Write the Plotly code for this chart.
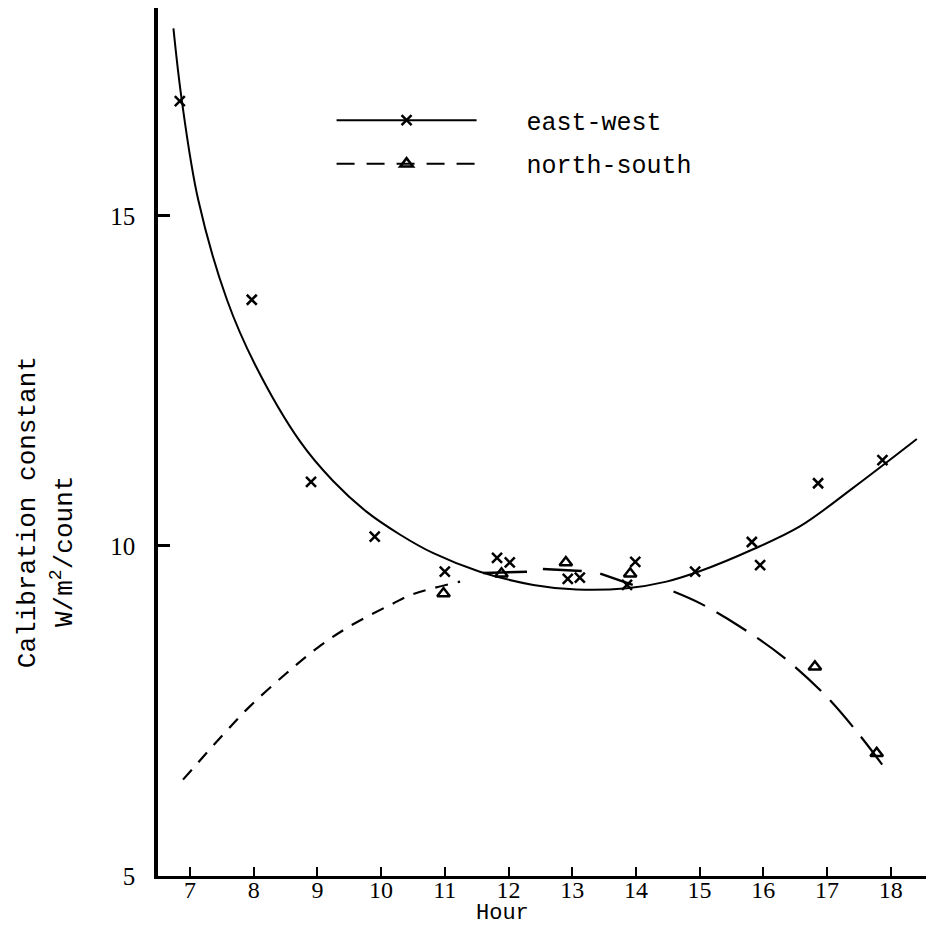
import plotly.graph_objects as go

# --- observed points ---
hours_ew = [6.84, 7.97, 8.90, 9.90, 11.00, 11.82, 12.02, 12.93, 13.12, 13.86, 13.99, 14.93, 15.82, 15.95, 16.86, 17.87]
vals_ew = [16.74, 13.73, 10.97, 10.14, 9.61, 9.82, 9.75, 9.50, 9.52, 9.41, 9.76, 9.61, 10.06, 9.71, 10.95, 11.30]

hours_ns = [10.98, 11.89, 12.90, 13.91, 16.81, 17.78]
vals_ns = [9.28, 9.58, 9.75, 9.58, 8.17, 6.86]

# --- fitted curves ---
fit_ew_h = [6.74, 6.87, 7.13, 7.58, 8.02, 8.73, 9.25, 9.77, 10.30, 10.82, 11.55, 12.39,
            13.07, 13.86, 14.48, 15.01, 15.84, 16.58, 17.41, 18.41]
fit_ew_v = [17.84, 16.76, 15.24, 13.73, 12.75, 11.58, 10.98, 10.52, 10.17, 9.89, 9.61, 9.41,
            9.34, 9.36, 9.46, 9.62, 9.95, 10.30, 10.88, 11.62]

fit_ns_left_h = [6.89, 7.50, 7.94, 8.50, 8.99, 9.50, 10.19, 10.50, 11.24]
fit_ns_left_v = [6.46, 7.12, 7.57, 8.06, 8.45, 8.78, 9.13, 9.27, 9.46]

fit_ns_mid_h = [11.60, 12.29, None, 12.54, 13.15, None, 13.44, 13.95]
fit_ns_mid_v = [9.59, 9.61, None, 9.65, 9.62, None, 9.58, 9.41]

fit_ns_right_h = [14.59, 15.01, 15.63, 16.31, 16.97, 17.49, 17.91]
fit_ns_right_v = [9.31, 9.13, 8.78, 8.32, 7.74, 7.16, 6.63]

x_ticks = list(range(7, 19))
y_ticks = [5, 10, 15]

MONO = "Liberation Mono"
SERIF = "Liberation Serif"
PAD = "\u00a0\u00a0\u00a0"

fig = go.Figure()

fig.add_trace(go.Scatter(x=fit_ew_h, y=fit_ew_v, mode="lines", line=dict(color="black", width=2, shape="spline"),
                         showlegend=False, hoverinfo="skip"))
fig.add_trace(go.Scatter(x=fit_ns_left_h, y=fit_ns_left_v, mode="lines",
                         line=dict(color="black", width=2.2, dash="13px,10px", shape="spline"),
                         showlegend=False, hoverinfo="skip"))
fig.add_trace(go.Scatter(x=fit_ns_mid_h, y=fit_ns_mid_v, mode="lines",
                         line=dict(color="black", width=2.5), connectgaps=False,
                         showlegend=False, hoverinfo="skip"))
fig.add_trace(go.Scatter(x=fit_ns_right_h, y=fit_ns_right_v, mode="lines",
                         line=dict(color="black", width=2.2, dash="35px,13px", shape="spline"),
                         showlegend=False, hoverinfo="skip"))

fig.add_trace(go.Scatter(x=hours_ew, y=vals_ew, mode="markers",
                         marker=dict(symbol="x-thin", size=10, line=dict(color="black", width=2.5)),
                         showlegend=False))
fig.add_trace(go.Scatter(x=hours_ns, y=vals_ns, mode="markers",
                         marker=dict(symbol="triangle-up-open", size=11, color="black",
                                     line=dict(color="black", width=2.5)),
                         showlegend=False))

# legend entries
fig.add_trace(go.Scatter(x=[None], y=[None], mode="lines+markers", name=PAD + "east-west",
                         legendgroup="ew",
                         line=dict(color="black", width=2),
                         marker=dict(symbol="x-thin", size=10, line=dict(color="black", width=2.5))))
fig.add_trace(go.Scatter(x=[None], y=[None], mode="lines+markers", name=PAD + "north-south",
                         legendgroup="ns",
                         line=dict(color="black", width=2, dash="18px,12px"),
                         marker=dict(symbol="triangle-up-open", size=11, color="black",
                                     line=dict(color="black", width=2.5))))

fig.update_layout(
    width=928, height=927,
    margin=dict(l=158, r=2, t=8, b=51),
    paper_bgcolor="white", plot_bgcolor="white",
    showlegend=True,
    legend=dict(x=0.226, y=0.897, xanchor="left", yanchor="top", itemwidth=140, tracegroupgap=8,
                font=dict(family=MONO, size=25, color="black"), bgcolor="rgba(0,0,0,0)"),
    xaxis=dict(range=[6.4976, 18.554], tickvals=x_ticks, ticktext=[str(v) for v in x_ticks],
               ticks="inside", ticklen=9, tickwidth=2, tickcolor="black", ticklabelstandoff=-10,
               showline=True, linecolor="black", linewidth=3, showgrid=False, zeroline=False,
               tickfont=dict(family=SERIF, size=24, color="black")),
    yaxis=dict(range=[5.0, 18.15], tickvals=y_ticks, ticktext=[str(v) for v in y_ticks],
               ticks="inside", ticklen=12, tickwidth=2.5, tickcolor="black", ticklabelstandoff=14,
               showline=True, linecolor="black", linewidth=3.5, showgrid=False, zeroline=False,
               tickfont=dict(family=SERIF, size=25, color="black")),
    annotations=[
        dict(text="Hour", xref="paper", yref="paper", x=0.448, y=-0.043, xanchor="center", yanchor="middle",
             showarrow=False, font=dict(family=MONO, size=22, color="black")),
        dict(text="Calibration constant", xref="paper", yref="paper", x=-0.169, y=0.4194,
             xanchor="center", yanchor="middle", textangle=-90, showarrow=False,
             font=dict(family=MONO, size=26, color="black")),
        dict(text="W/m<sup>2</sup>/count", xref="paper", yref="paper", x=-0.1237, y=0.3744,
             xanchor="center", yanchor="middle", textangle=-90, showarrow=False,
             font=dict(family=MONO, size=26, color="black")),
    ],
)

fig.write_html("out.html")
